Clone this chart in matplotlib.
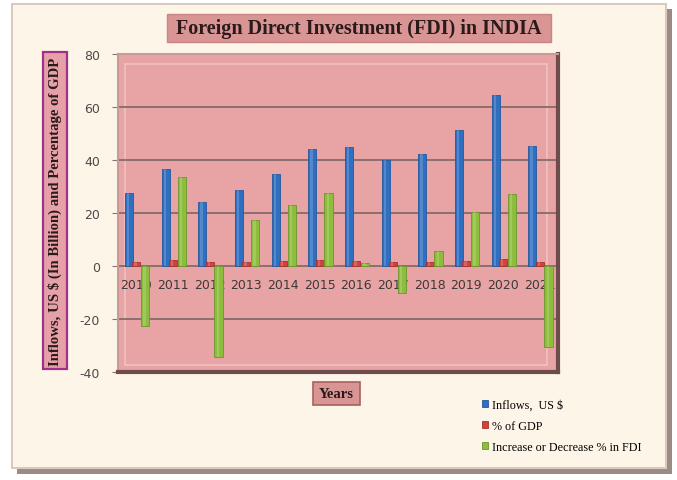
import numpy as np
import matplotlib.pyplot as plt
from matplotlib.patches import Rectangle

plt.rcParams['axes.unicode_minus'] = False

years = ['2010', '2011', '2012', '2013', '2014', '2015',
         '2016', '2017', '2018', '2019', '2020', '2021']
inflows = [27.7, 36.6, 24.3, 28.7, 34.9, 44.2, 44.8, 40.1, 42.3, 51.2, 64.5, 45.2]
pct_gdp = [1.6, 2.1, 1.5, 1.4, 1.9, 2.3, 2.0, 1.5, 1.6, 1.8, 2.7, 1.6]
change = [-22.7, 33.4, -34.2, 17.5, 23.0, 27.7, 1.0, -10.0, 5.7, 20.4, 27.3, -30.7]

W, H = 677, 481
fig = plt.figure(figsize=(W / 100, H / 100), dpi=100)
fig.patch.set_facecolor('white')

def px(x0, y0, x1, y1):
    # pixel box (top-left origin) -> figure fraction rect
    return (x0 / W, 1 - y1 / H, (x1 - x0) / W, (y1 - y0) / H)

# outer chart frame with shadow
x, y, w, h = px(17, 10, 672, 475)
fig.patches.append(Rectangle((x, y), w, h, transform=fig.transFigure,
                             facecolor='#9c8b84', edgecolor='none', zorder=-2))
x, y, w, h = px(12, 5, 666, 469)
fig.patches.append(Rectangle((x, y), w, h, transform=fig.transFigure,
                             facecolor='#fdf6e8', edgecolor='#d9c9bf', lw=1.5, zorder=-1))

# title box
x, y, w, h = px(167, 15, 551, 43)
fig.patches.append(Rectangle((x, y), w, h, transform=fig.transFigure,
                             facecolor='#d99494', edgecolor='#c98585', lw=1, zorder=1))
fig.text(x + w / 2, y + h / 2, 'Foreign Direct Investment (FDI) in INDIA',
         ha='center', va='center', family='Liberation Serif', weight='bold',
         fontsize=14.5, color='#2a1a1a', zorder=2)

# y label box
x, y, w, h = px(43, 53, 67, 370)
fig.patches.append(Rectangle((x, y), w, h, transform=fig.transFigure,
                             facecolor='#e6a0a8', edgecolor='#a0308a', lw=1.6, zorder=1))
fig.text(x + w / 2, y + h / 2, 'Inflows, US $ (In Billion) and Percentage of GDP',
         ha='center', va='center', rotation=90, family='Liberation Serif',
         weight='bold', fontsize=10.6, color='#2a1a1a', zorder=2)

# x label box
x, y, w, h = px(313, 383, 360, 406)
fig.patches.append(Rectangle((x, y), w, h, transform=fig.transFigure,
                             facecolor='#d99494', edgecolor='#a86060', lw=1.2, zorder=1))
fig.text(x + w / 2, y + h / 2, 'Years', ha='center', va='center',
         family='Liberation Serif', weight='bold', fontsize=10.5, color='#2a1a1a', zorder=2)

# plot area
ax = fig.add_axes(px(118, 55, 558, 373))
ax.set_facecolor('#e8a4a4')
ax.set_xlim(-0.5, len(years) - 0.5)
ax.set_ylim(-40, 80)
ax.set_yticks(range(-40, 81, 20))
ax.yaxis.grid(True, color='#7e6666', lw=1.2)
ax.set_axisbelow(True)

# bevel of the plot area
ax.add_patch(Rectangle((0.016, 0.022), 0.958, 0.948, transform=ax.transAxes,
                       facecolor='none', edgecolor='#f0c2c2', lw=1.2, zorder=0.5))
for side in ['left', 'top']:
    ax.spines[side].set_color('#c99a9a')
    ax.spines[side].set_linewidth(1.5)
ax.spines['right'].set_color('#6e4c4c')
ax.spines['right'].set_linewidth(3)
ax.spines['bottom'].set_color('#6e4c4c')
ax.spines['bottom'].set_linewidth(3)

xs = np.arange(len(years))
bw = 0.22
offsets = [-0.2, 0.0, 0.24]
series = [inflows, pct_gdp, change]
names = ['Inflows,  US $', '% of GDP', 'Increase or Decrease % in FDI']
colors = ['#2f6fc2', '#d0423c', '#8cbd3c']
edges = ['#24589c', '#a8302c', '#6a962a']
for off, vals, name, c, e in zip(offsets, series, names, colors, edges):
    ax.bar(xs + off, vals, bw, color=c, edgecolor=e, lw=0.6, label=name, zorder=2)
    # lighter strip to hint at the cylinder shading
    ax.bar(xs + off - 0.02, vals, bw * 0.3, color='white', alpha=0.18, lw=0, zorder=2.1)

# x tick labels sit just under the zero line, behind the bars
ax.set_xticks(xs)
ax.set_xticklabels([])
ax.tick_params(axis='x', length=0)
for i, yr in enumerate(years):
    ax.text(i, -4.4, yr, ha='center', va='top', fontsize=9, color='#3a3a3a', zorder=1.5)
ax.tick_params(axis='y', length=4, color='#8a7272', labelsize=9,
               labelcolor='#4a4a4a', pad=9)

handles, labels = ax.get_legend_handles_labels()
fig.legend(handles, labels, loc='upper left', bbox_to_anchor=(471 / W, 1 - 389 / H),
           frameon=False, prop={'family': 'Liberation Serif', 'size': 8.7},
           handlelength=0.5, handleheight=0.5, handletextpad=0.3, labelspacing=0.75)

plt.savefig('out.png', dpi=100, facecolor=fig.get_facecolor())
